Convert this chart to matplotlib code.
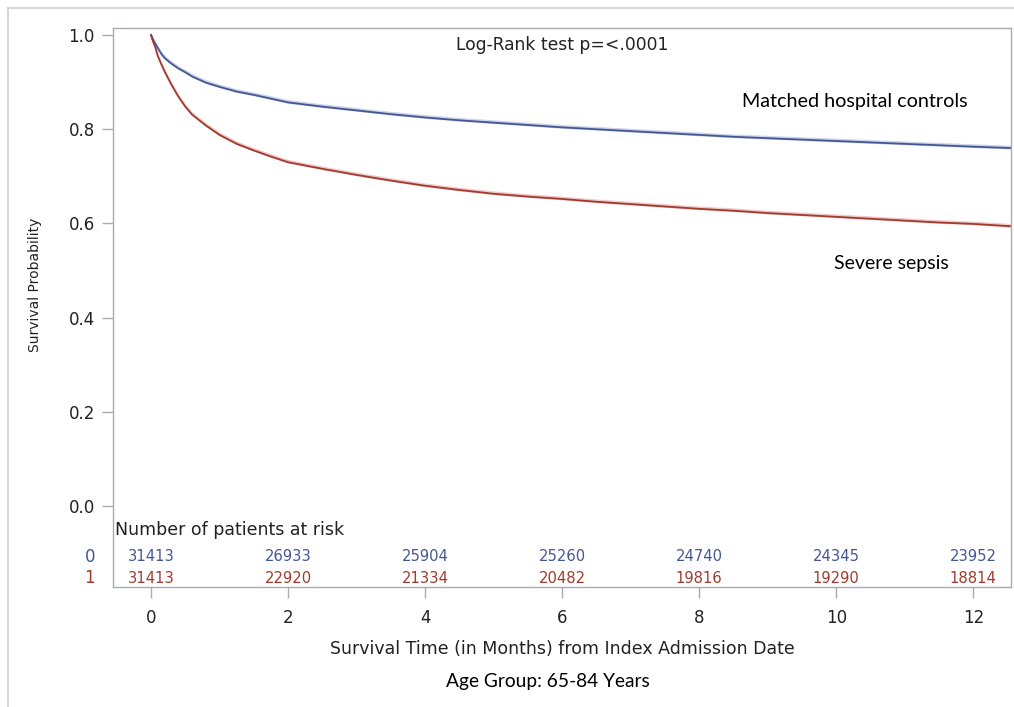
import matplotlib
matplotlib.use("Agg")
import numpy as np
from matplotlib import pyplot as plt
from matplotlib.lines import Line2D

# Kaplan-Meier estimates (months since index admission)
months = [0, 0.03, 0.06, 0.1, 0.15, 0.2, 0.3, 0.4, 0.5, 0.6, 0.8, 1.0, 1.25, 1.5, 1.75,
          2.0, 2.5, 3.0, 3.5, 4.0, 4.5, 5.0, 5.5, 6.0, 6.5, 7.0, 7.5, 8.0, 8.5, 9.0,
          9.5, 10.0, 10.5, 11.0, 11.5, 12.0, 12.55]
surv_controls = [1.0, 0.990, 0.982, 0.972, 0.960, 0.951, 0.939, 0.929, 0.921, 0.912, 0.899,
                 0.890, 0.880, 0.873, 0.865, 0.857, 0.848, 0.840, 0.832, 0.825, 0.819, 0.814,
                 0.809, 0.804, 0.800, 0.796, 0.792, 0.788, 0.784, 0.781, 0.778, 0.775, 0.772,
                 0.769, 0.766, 0.763, 0.760]
surv_sepsis = [1.0, 0.986, 0.975, 0.955, 0.938, 0.922, 0.894, 0.869, 0.848, 0.831, 0.808,
               0.788, 0.769, 0.755, 0.742, 0.730, 0.716, 0.703, 0.691, 0.680, 0.671, 0.663,
               0.657, 0.652, 0.646, 0.641, 0.636, 0.631, 0.627, 0.622, 0.618, 0.614, 0.610,
               0.606, 0.602, 0.599, 0.594]

# number at risk table
risk_times = [0, 2, 4, 6, 8, 10, 12]
risk_controls = [31413, 26933, 25904, 25260, 24740, 24345, 23952]
risk_sepsis = [31413, 22920, 21334, 20482, 19816, 19290, 18814]
risk_groups = ["0", "1"]

yticks = [0.0, 0.2, 0.4, 0.6, 0.8, 1.0]
xticks = [0, 2, 4, 6, 8, 10, 12]

blue = "#445694"
red = "#a23a2e"
band_blue = "#cdd3ea"
band_red = "#f1c9c9"
frame_gray = "#a8acb0"
ink = "#222222"

sas_font = ["DejaVu Sans"]
note_font = ["Lato", "DejaVu Sans"]

fig = plt.figure(figsize=(10.14, 7.07), dpi=100)
fig.patch.set_facecolor("white")
ax = fig.add_axes([113 / 1014, 1 - 587 / 707, 898 / 1014, 559 / 707])

t = np.array(months)
for s, c, band in [(surv_controls, blue, band_blue), (surv_sepsis, red, band_red)]:
    s = np.array(s)
    ax.fill_between(t, s - 0.002, s + 0.006, color=band, lw=0, zorder=1)
    ax.plot(t, s, color=c, lw=1.3, zorder=2)

ax.set_xlim(-0.555, 12.55)
ax.set_ylim(-0.172, 1.015)
ax.set_xticks(xticks)
ax.set_yticks(yticks)
ax.set_xticklabels([str(x) for x in xticks], family=sas_font, fontsize=12, color=ink)
ax.set_yticklabels(["%.1f" % y for y in yticks], family=sas_font, fontsize=12, color=ink)
ax.tick_params(axis="both", direction="out", length=8, width=1, color=frame_gray, pad=5)
ax.tick_params(axis="x", pad=8)
for sp in ax.spines.values():
    sp.set_color(frame_gray)
    sp.set_linewidth(1)

ax.set_xlabel("Survival Time (in Months) from Index Admission Date",
              family=sas_font, fontsize=12.5, color=ink, labelpad=9)
ax.set_ylabel("Survival Probability", family=sas_font, fontsize=10, color=ink)
ax.yaxis.set_label_coords(-0.079, 0.54)

ax.text(0.5, 0.97, "Log-Rank test p=<.0001", transform=ax.transAxes, ha="center",
        va="center", family=sas_font, fontsize=12.3, color=ink)

# at-risk table inside the lower band of the axes
ax.text(-0.52, -0.051, "Number of patients at risk", ha="left", va="center",
        family=sas_font, fontsize=12.5, color=ink)
row_y = [-0.108, -0.153]
for label, counts, c, y in zip(risk_groups, [risk_controls, risk_sepsis], [blue, red], row_y):
    for x, n in zip(risk_times, counts):
        ax.text(x, y, str(n), ha="center", va="center", family=sas_font,
                fontsize=10.6, color=c)
    ax.text(-0.026, y, label, transform=ax.get_yaxis_transform(), ha="center",
            va="center", family=sas_font, fontsize=12, color=c)

fig.text(855 / 1014, 1 - 101 / 707, "Matched hospital controls", ha="center",
         va="center", family=note_font, fontsize=14.2, color="black")
fig.text(891 / 1014, 1 - 264 / 707, "Severe sepsis", ha="center", va="center",
         family=note_font, fontsize=14, color="black")
fig.text(548 / 1014, 1 - 682 / 707, "Age Group: 65-84 Years", ha="center", va="center",
         family=note_font, fontsize=13.8, color="black")

# outer frame edges
fig.add_artist(Line2D([8 / 1014, 1.0], [1 - 8 / 707, 1 - 8 / 707],
                      transform=fig.transFigure, color="#cfcfcf", lw=1.2))
fig.add_artist(Line2D([8 / 1014, 8 / 1014], [0.0, 1 - 8 / 707],
                      transform=fig.transFigure, color="#cfcfcf", lw=1.2))

fig.savefig("out.png", dpi=100)
